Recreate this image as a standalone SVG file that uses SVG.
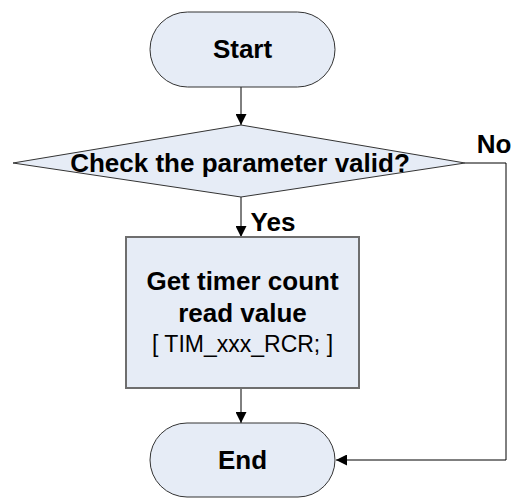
<svg xmlns="http://www.w3.org/2000/svg" width="513" height="500" viewBox="0 0 513 500">
<style>
.shape{fill:#e6ecf6;stroke:#333;stroke-width:1}
.box{fill:#e6ecf6;stroke:#6e6e6e;stroke-width:2}
.b{font-family:"Liberation Sans",Arial,sans-serif;font-weight:bold;font-size:26px;fill:#000;text-anchor:middle}
.r{font-family:"Liberation Sans",Arial,sans-serif;font-size:23px;fill:#000;text-anchor:middle}
.c{fill:none;stroke:#000;stroke-width:1}
</style>
<defs>
<marker id="ah" markerWidth="11" markerHeight="11" refX="11" refY="5.5" orient="auto" markerUnits="userSpaceOnUse">
<path d="M0,0 L11,5.5 L0,11 z" fill="#000"/>
</marker>
</defs>
<g id="connectors">
<line class="c" x1="241" y1="87" x2="241" y2="125" marker-end="url(#ah)"/>
<line class="c" x1="241" y1="197" x2="241" y2="237" marker-end="url(#ah)"/>
<line class="c" x1="241" y1="388" x2="241" y2="423" marker-end="url(#ah)"/>
<polyline class="c" points="465,163 506,163 506,460 336,460" marker-end="url(#ah)"/>
</g>
<g id="start">
<rect class="shape" x="150" y="12" width="185" height="75" rx="37.5"/>
<text class="b" x="242.5" y="58">Start</text>
</g>
<g id="decision">
<polygon class="shape" points="241,125 465,163 241,197 13,163"/>
<text class="b" x="240" y="172">Check the parameter valid?</text>
</g>
<text class="b" x="273" y="231">Yes</text>
<text class="b" x="494" y="153">No</text>
<g id="process">
<rect class="box" x="126" y="237" width="233" height="151"/>
<text class="b" x="242.5" y="290">Get timer count</text>
<text class="b" x="242.5" y="322">read value</text>
<text class="r" x="242.5" y="352">[ TIM_xxx_RCR; ]</text>
</g>
<g id="end">
<rect class="shape" x="150" y="423" width="185" height="74" rx="37"/>
<text class="b" x="242.5" y="469">End</text>
</g>
</svg>
